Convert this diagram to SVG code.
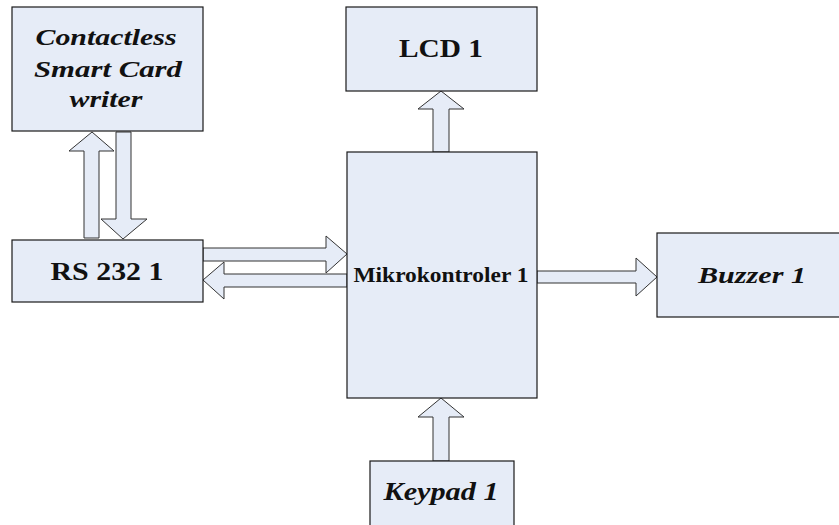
<svg xmlns="http://www.w3.org/2000/svg" width="839" height="525" viewBox="0 0 839 525">
  <style>
    .box { fill: #e6ecf7; stroke: #1a1a1a; stroke-width: 1.2; }
    .arrow { fill: #e6ecf7; stroke: #333333; stroke-width: 1; stroke-linejoin: miter; }
    .lbl { font-family: 'Liberation Serif', 'Times New Roman', Times, 'DejaVu Serif', serif; font-weight: 700; fill: #111111; text-anchor: middle; }
    .it { font-style: italic; }
  </style>
  <rect x="0" y="0" width="839" height="525" fill="#ffffff"/>

  <!-- block arrows between the units -->
  <g id="connectors">
    <!-- RS 232 up to card writer -->
    <path class="arrow" d="M84,238 L84,151 L69,151 L92,132 L114,151 L99,151 L99,238 Z"/>
    <!-- card writer down to RS 232 -->
    <path class="arrow" d="M116,132 L131,132 L131,219 L147,219 L123,239 L101,219 L116,219 Z"/>
    <!-- RS 232 to microcontroller -->
    <path class="arrow" d="M203,248 L326,248 L326,236 L347,254 L326,273 L326,261 L203,261 Z"/>
    <!-- microcontroller to RS 232 -->
    <path class="arrow" d="M347,274 L347,287 L224,287 L224,299 L203,280 L224,262 L224,274 Z"/>
    <!-- microcontroller up to LCD -->
    <path class="arrow" d="M433,152 L433,109 L418,109 L441,91 L464,109 L449,109 L449,152 Z"/>
    <!-- microcontroller to buzzer -->
    <path class="arrow" d="M537,271 L636,271 L636,258 L657,277 L636,296 L636,283 L537,283 Z"/>
    <!-- keypad up to microcontroller -->
    <path class="arrow" d="M433,461 L433,417 L418,417 L441,398 L464,417 L449,417 L449,461 Z"/>
  </g>

  <g id="card-writer">
    <rect class="box" x="12" y="7" width="191" height="124"/>
    <text class="lbl it" font-family="Liberation Serif, serif" font-size="24" x="106" y="45" textLength="141" lengthAdjust="spacingAndGlyphs">Contactless</text>
    <text class="lbl it" font-family="Liberation Serif, serif" font-size="24" x="108" y="77" textLength="148" lengthAdjust="spacingAndGlyphs">Smart Card</text>
    <text class="lbl it" font-family="Liberation Serif, serif" font-size="24" x="106" y="107" textLength="73" lengthAdjust="spacingAndGlyphs">writer</text>
  </g>

  <g id="rs232">
    <rect class="box" x="12" y="240" width="191" height="62"/>
    <text class="lbl" font-size="25" x="107" y="280" textLength="113" lengthAdjust="spacingAndGlyphs">RS 232 1</text>
  </g>

  <g id="lcd">
    <rect class="box" x="346" y="7" width="191" height="84"/>
    <text class="lbl" font-size="25" x="441" y="57" textLength="84" lengthAdjust="spacingAndGlyphs">LCD 1</text>
  </g>

  <g id="microcontroller">
    <rect class="box" x="347" y="152" width="190" height="246"/>
    <text class="lbl" font-size="20" x="441" y="282" textLength="175" lengthAdjust="spacingAndGlyphs">Mikrokontroler 1</text>
  </g>

  <g id="buzzer">
    <rect class="box" x="657" y="233" width="190" height="84"/>
    <text class="lbl it" font-size="23" x="752" y="283" textLength="108" lengthAdjust="spacingAndGlyphs">Buzzer 1</text>
  </g>

  <g id="keypad">
    <rect class="box" x="370" y="461" width="144" height="80"/>
    <text class="lbl it" font-size="25" x="441" y="500" textLength="115" lengthAdjust="spacingAndGlyphs">Keypad 1</text>
  </g>
</svg>
